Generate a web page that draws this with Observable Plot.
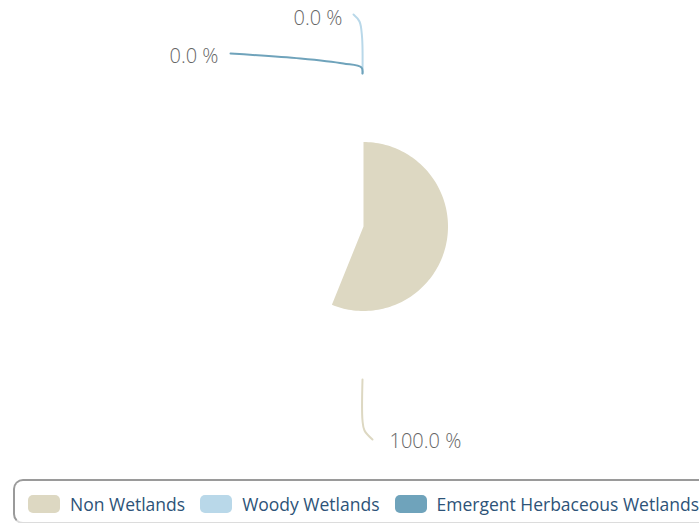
<!DOCTYPE html>
<html>
<head>
<meta charset="utf-8">
<script src="https://cdn.jsdelivr.net/npm/d3@7"></script>
<script src="https://cdn.jsdelivr.net/npm/@observablehq/plot@0.6"></script>
<style>
  html, body { margin: 0; padding: 0; background: #fff; overflow: hidden; }
  body { width: 699px; height: 523px; position: relative; font-family: "Open Sans", sans-serif; }
  #chart { position: absolute; left: 0; top: 0; }
  #legend {
    position: absolute; left: 13px; top: 479px; width: 720px; height: 36px;
    border: 2px solid #9a9a9a; border-bottom-color: #dcdcdc; border-radius: 10px;
    display: flex; align-items: center; padding-left: 13px; padding-top: 5px; box-sizing: content-box;
  }
  .item { display: flex; align-items: center; margin-right: 15px; }
  .sw { width: 32px; height: 18px; border-radius: 5px; margin-right: 10px; }
  .lab { font-size: 17.5px; color: #2d5378; white-space: nowrap; }
</style>
</head>
<body>
<div id="chart"></div>
<div id="legend"></div>
<script>
// ---- data ----
const categories = ["Non Wetlands", "Woody Wetlands", "Emergent Herbaceous Wetlands"];
const values = [100, 0, 0];
const colors = ["#ddd8c2", "#b9d8e9", "#6fa3bb"];
const labels = ["100.0 %", "0.0 %", "0.0 %"];
const drawnFraction = 0.561; // portion of the pie swept in the snapshot

// ---- layout ----
const W = 699, H = 479, cx = 363, cy = 226;
const R = 84.5, Rconn = 153;
// connector shape offsets (from connector start, outward positive) and label offsets per slice
const connectorOffsets = [
  [[0, 0], [0, -41], [2, -51], [10, -60]],
  [[0, 0], [-0.5, -37], [-3, -52], [-9, -59]],
  [[0, 0], [-1, -6], [-19, -10], [-62, -15], [-132, -20]]
];
const labelOffsets = [[27, -62, "start"], [-20, -55, "end"], [-144, -17, "end"]];

const pie = d3.pie().sort(null).value(d => d)(values);

// sector polygon (drawn portion)
const sector = [];
const sweepEnd = 2 * Math.PI * drawnFraction;
const slices = d3.pie().sort(null).value(d => d).endAngle(sweepEnd)(values);
slices.forEach((s, i) => {
  if (s.endAngle - s.startAngle <= 0) return;
  sector.push({k: i, x: 0, y: 0});
  const n = 120;
  for (let j = 0; j <= n; j++) {
    const a = s.startAngle + (s.endAngle - s.startAngle) * j / n;
    sector.push({k: i, x: R * Math.sin(a), y: R * Math.cos(a)});
  }
});

// connectors and labels (final layout)
const conn = [], texts = [];
pie.forEach((s, i) => {
  const mid = (s.startAngle + s.endAngle) / 2;
  const sx = Rconn * Math.sin(mid), sy = Rconn * Math.cos(mid);
  const flip = Math.cos(mid) >= 0 ? 1 : -1;
  connectorOffsets[i].forEach(([dx, dy], j) => {
    conn.push({k: i, j, x: sx - 1 + dx, y: sy - flip * dy});
  });
  const [lx, ly, anchor] = labelOffsets[i];
  texts.push({k: i, x: sx - 1 + lx, y: sy - flip * ly, t: labels[i], anchor});
});

const plot = Plot.plot({
  width: W, height: H,
  margin: 0,
  x: {domain: [-cx, W - cx], range: [0, W], axis: null},
  y: {domain: [-(H - cy), cy], range: [H, 0], axis: null},
  style: {background: "transparent", fontFamily: "Open Sans"},
  marks: [
    Plot.line(sector, {x: "x", y: "y", z: "k", fill: d => colors[d.k], stroke: "none", curve: "linear-closed"}),
    ...[0, 1, 2].map(k => Plot.line(conn.filter(d => d.k === k), {x: "x", y: "y", stroke: colors[k], strokeWidth: 2, curve: "catmull-rom"})),
    ...texts.map(t => Plot.text([t], {x: "x", y: "y", text: "t", textAnchor: t.anchor, fontSize: 20, fontWeight: 300, fill: "#666"}))
  ]
});
document.getElementById("chart").appendChild(plot);

const legend = document.getElementById("legend");
categories.forEach((c, i) => {
  const it = document.createElement("div");
  it.className = "item";
  it.innerHTML = `<div class="sw" style="background:${colors[i]}"></div><span class="lab">${c}</span>`;
  legend.appendChild(it);
});
</script>
</body>
</html>
